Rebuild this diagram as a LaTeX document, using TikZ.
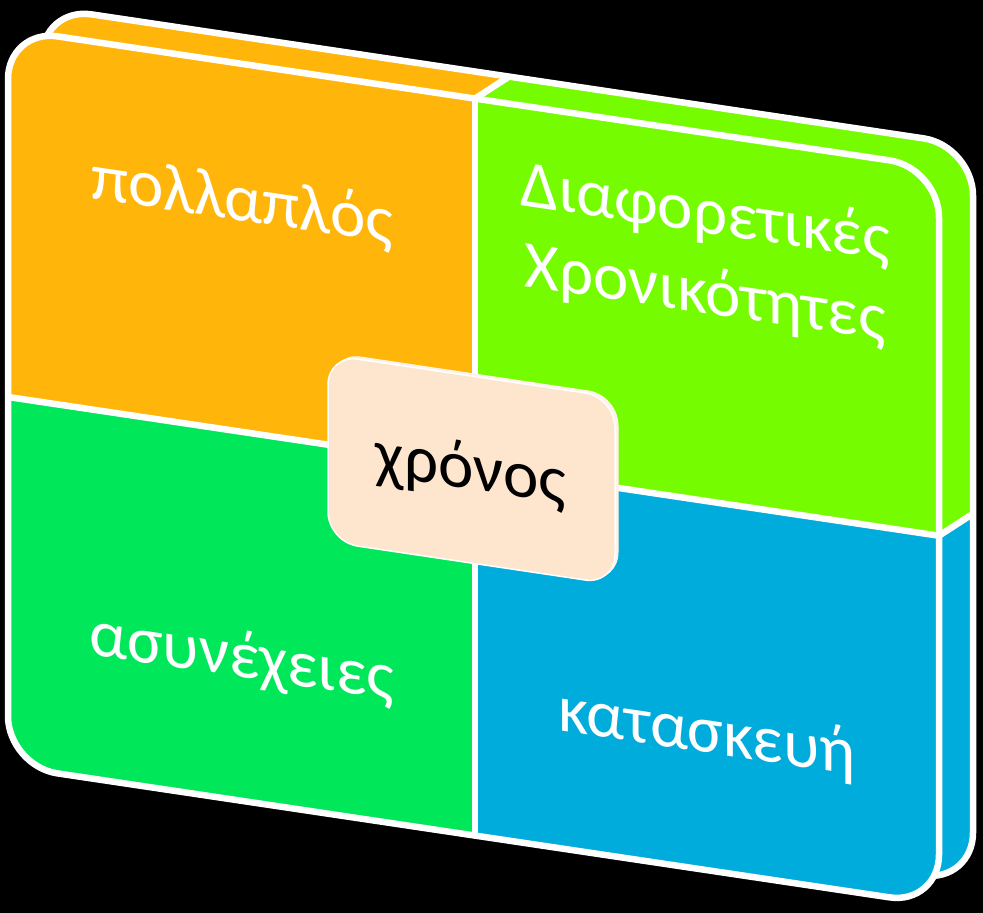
\documentclass[tikz,border=0pt]{standalone}
\usepackage{fontspec}
\setmainfont{Carlito}
\definecolor{qorange}{RGB}{255,181,10}
\definecolor{qlime}{RGB}{118,252,0}
\definecolor{qgreen}{RGB}{0,232,90}
\definecolor{qblue}{RGB}{0,172,219}
\definecolor{qpeach}{RGB}{253,229,206}
\definecolor{qpeachside}{RGB}{255,242,232}
\begin{document}
\begin{tikzpicture}[x=1pt,y=-1pt,
  edge/.style={white,line width=6.5pt},
  backface/.style={shift={(42,7)},yslant=-0.149},
  frontface/.style={shift={(8,29)},yslant=-0.149},
  lbl/.style={text=white,font=\fontsize{67}{70}\selectfont,inner sep=0pt,anchor=base,transform shape},
  clbl/.style={text=black,font=\fontsize{67}{70}\selectfont,inner sep=0pt,anchor=base,transform shape}]
\fill[black] (0,0) rectangle (983,913);
\useasboundingbox (0,0) rectangle (983,913);
% divider points on front and back faces
\coordinate (FT) at (475,98.6);
\coordinate (BT) at (509,76.6);
\coordinate (FR) at (939,535.7);
\coordinate (BR) at (973,513.7);
% back face (visible as top and right sides)
\begin{scope}
  \clip[backface,rounded corners=50pt] (0,0) rectangle (931,737);
  \fill[qblue] (-10,-20) rectangle (1000,930);
  \fill[qlime] (645,-20) -- (1010,-20) -- (1010,490) -- (FR) -- (FT) -- cycle;
  \fill[qorange] (-10,-20) -- (645,-20) -- (FT) -- (-10,400) -- cycle;
\end{scope}
\draw[edge,backface,rounded corners=50pt] (0,0) rectangle (931,737);
\draw[edge] (FT) -- (BT);
\draw[edge] (FR) -- (BR);
% front face
\begin{scope}[frontface]
  \begin{scope}
    \clip[rounded corners=50pt] (0,0) rectangle (931,737);
    \fill[qorange] (0,0) rectangle (467,368);
    \fill[qlime] (467,0) rectangle (931,368);
    \fill[qgreen] (0,368) rectangle (467,737);
    \fill[qblue] (467,368) rectangle (931,737);
  \end{scope}
  \draw[edge] (467,0) -- (467,737);
  \draw[edge] (0,368) -- (931,368);
  \draw[edge,rounded corners=50pt] (0,0) rectangle (931,737);
  % centre box
  \draw[qpeachside,fill=qpeachside,line width=1pt,rounded corners=30pt] (323,275.5) rectangle (610,462.5);
  \draw[white,fill=qpeach,line width=1.5pt,rounded corners=30pt] (320,278) rectangle (607,465);
  \node[lbl] (t1) at (234,157) {πολλαπλός};
  \node[lbl] (t2a) at (697,100) {Διαφορετικές};
  \node[lbl] (t2b) at (697,180.5) {Χρονικότητες};
  \node[lbl] (t3) at (234,613.5) {ασυνέχειες};
  \node[lbl] (t4) at (699,619.5) {κατασκευή};
  \node[clbl] (t5) at (463,391.5) {χρόνος};
\end{scope}
\end{tikzpicture}
\end{document}
